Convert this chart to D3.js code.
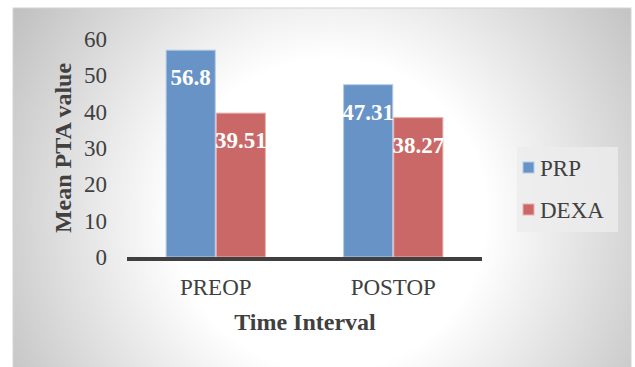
<!DOCTYPE html>
<html>
<head>
<meta charset="utf-8">
<script src="https://cdn.jsdelivr.net/npm/d3@7"></script>
<style>
  html, body { margin: 0; padding: 0; background: #ffffff; }
  svg { display: block; }
  text { font-family: "Liberation Serif", "Times New Roman", serif; }
</style>
</head>
<body>
<svg id="chart" width="635" height="367"></svg>
<script>
// Mean PTA value by time interval, for each treatment group
const categories = ["PREOP", "POSTOP"];
const seriesNames = ["PRP", "DEXA"];
const prpValues = [56.8, 47.31];
const dexaValues = [39.51, 38.27];
const yTicks = [0, 10, 20, 30, 40, 50, 60];
const seriesColors = ["#6893C7", "#C96866"];
const seriesEdges = ["#B4CBE8", "#EBB0B0"];

const rows = categories.map((c, i) => ({
  category: c,
  values: [
    { key: seriesNames[0], value: prpValues[i], idx: 0 },
    { key: seriesNames[1], value: dexaValues[i], idx: 1 }
  ]
}));

const svg = d3.select("#chart");

// Background panel with a soft radial shading
const defs = svg.append("defs");
const grad = defs.append("radialGradient")
  .attr("id", "bg")
  .attr("gradientUnits", "userSpaceOnUse")
  .attr("cx", 330).attr("cy", 215).attr("r", 390);
grad.append("stop").attr("offset", 0).attr("stop-color", "#ffffff");
grad.append("stop").attr("offset", 0.4).attr("stop-color", "#ffffff");
grad.append("stop").attr("offset", 1).attr("stop-color", "#bcbcbc");

svg.append("rect")
  .attr("x", 13).attr("y", 8).attr("width", 618).attr("height", 362)
  .attr("fill", "url(#bg)")
  .attr("stroke", "#d4d4d4").attr("stroke-width", 1);

// Scales
const x0 = d3.scaleBand()
  .domain(categories)
  .range([127, 482])
  .paddingInner(0.435)
  .paddingOuter(0.2175);

const x1 = d3.scaleBand()
  .domain(seriesNames)
  .range([0, x0.bandwidth()])
  .padding(0);

const y = d3.scaleLinear().domain([0, 60]).range([257, 38.5]);

// Y tick labels (no axis line)
const yAxis = d3.axisLeft(y).tickValues(yTicks).tickSize(0).tickPadding(0);
const yG = svg.append("g").attr("transform", "translate(107,0)").call(yAxis);
yG.select(".domain").remove();
yG.selectAll("text")
  .attr("font-family", "Liberation Serif")
  .attr("font-size", 23)
  .attr("fill", "#404040")
  .attr("dy", "0.34em");

// Bars
const groups = svg.append("g").selectAll("g")
  .data(rows).join("g")
  .attr("transform", d => `translate(${x0(d.category)},0)`);

groups.selectAll("rect")
  .data(d => d.values).join("rect")
  .attr("x", d => x1(d.key) + 0.5)
  .attr("y", d => y(d.value))
  .attr("width", x1.bandwidth() - 1)
  .attr("height", d => y(0) - y(d.value))
  .attr("fill", d => seriesColors[d.idx])
  .attr("stroke", d => seriesEdges[d.idx])
  .attr("stroke-width", 1);

// Value labels inside the bar ends
groups.selectAll("text.val")
  .data(d => d.values).join("text")
  .attr("class", "val")
  .attr("x", d => x1(d.key) + x1.bandwidth() / 2)
  .attr("y", d => y(d.value) + 35)
  .attr("text-anchor", "middle")
  .attr("font-size", 23)
  .attr("font-weight", "bold")
  .attr("fill", "#ffffff")
  .text(d => d.value);

// X axis line and category labels
const xAxis = d3.axisBottom(x0).tickSize(0).tickPadding(0);
const xG = svg.append("g").attr("transform", "translate(0,259)").call(xAxis);
xG.select(".domain")
  .attr("d", "M127,0H482")
  .attr("stroke", "#404040")
  .attr("stroke-width", 4);
xG.selectAll("text")
  .attr("font-family", "Liberation Serif")
  .attr("font-size", 23)
  .attr("fill", "#404040")
  .attr("dy", null)
  .attr("y", 36);

// Axis titles
svg.append("text")
  .attr("x", 305).attr("y", 330)
  .attr("text-anchor", "middle")
  .attr("font-size", 24)
  .attr("font-weight", "bold")
  .attr("fill", "#404040")
  .text("Time Interval");

svg.append("text")
  .attr("transform", "translate(71,148) rotate(-90)")
  .attr("text-anchor", "middle")
  .attr("font-size", 24)
  .attr("font-weight", "bold")
  .attr("fill", "#404040")
  .text("Mean PTA value");

// Legend
const legend = svg.append("g");
legend.append("rect")
  .attr("x", 517).attr("y", 147).attr("width", 101).attr("height", 85)
  .attr("fill", "#ececec").attr("fill-opacity", 0.8);

const legendRows = [
  { name: seriesNames[0], idx: 0, y: 162 },
  { name: seriesNames[1], idx: 1, y: 204 }
];
const li = legend.selectAll("g").data(legendRows).join("g");
li.append("rect")
  .attr("x", 523).attr("y", d => d.y).attr("width", 11).attr("height", 11)
  .attr("fill", d => seriesColors[d.idx])
  .attr("stroke", d => seriesEdges[d.idx]).attr("stroke-width", 1);
li.append("text")
  .attr("x", 540).attr("y", d => d.y + 14)
  .attr("font-size", 23)
  .attr("fill", "#404040")
  .text(d => d.name);
</script>
</body>
</html>
